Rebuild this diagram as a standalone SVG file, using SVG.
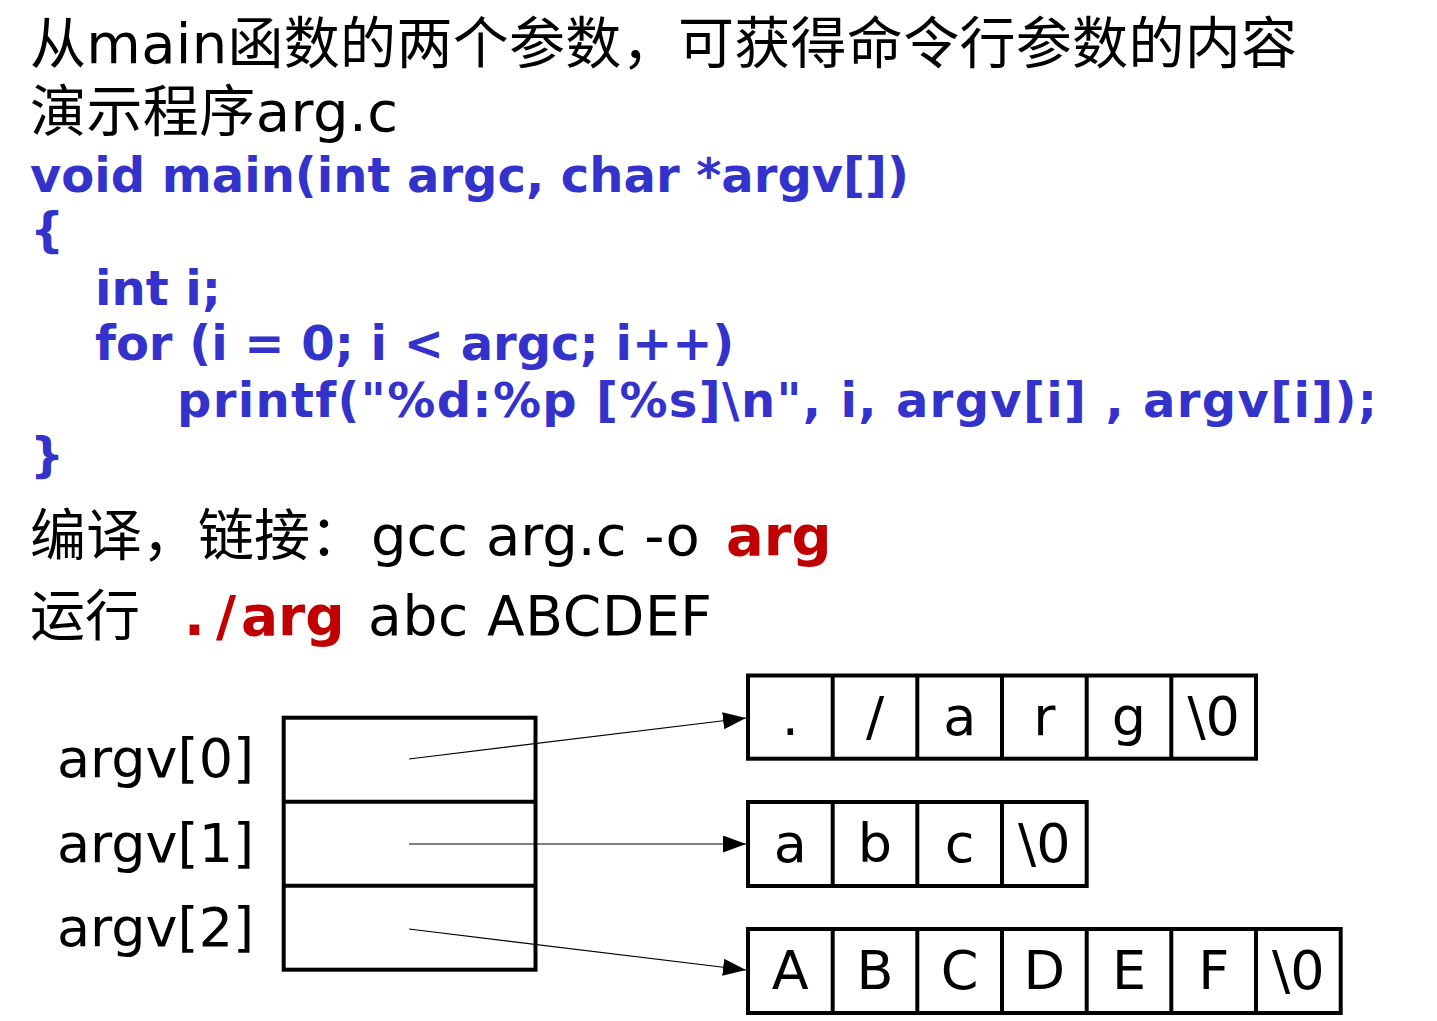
<svg xmlns="http://www.w3.org/2000/svg" width="1437" height="1021" viewBox="0 0 1437 1021">
<style>
  .t { font-family: "DejaVu Sans", "Noto Sans CJK SC", sans-serif; font-size: 54px; fill: #000; }
  .code { font-family: "DejaVu Sans", "Noto Sans CJK SC", sans-serif; font-size: 48px; font-weight: bold; fill: #3333CC; }
  .red { font-weight: bold; fill: #C00000; }
  .cell { font-family: "DejaVu Sans", sans-serif; font-size: 54px; fill: #000; text-anchor: middle; }
  .box { fill: none; stroke: #000; stroke-width: 4; }
  .conn { stroke: #000; stroke-width: 1.2; fill: none; }
</style>
<defs>
  <marker id="arrow" markerUnits="userSpaceOnUse" markerWidth="26" markerHeight="18" refX="23" refY="8.5" orient="auto">
    <path d="M0,0 L23,8.5 L0,17 z" fill="#000"/>
  </marker>
</defs>
<rect width="1437" height="1021" fill="#fff"/>

<g id="heading">
  <text class="t" x="30" y="63" style="font-size:56px" textLength="1267" lengthAdjust="spacing">从main函数的两个参数，可获得命令行参数的内容</text>
  <text class="t" x="30" y="131" style="font-size:56px" textLength="368" lengthAdjust="spacing">演示程序arg.c</text>
</g>

<g id="code">
  <text class="code" x="30" y="192">void main(int argc, char *argv[])</text>
  <text class="code" x="30" y="247">{</text>
  <text class="code" x="95" y="305">int i;</text>
  <text class="code" x="95" y="360">for (i = 0; i &lt; argc; i++)</text>
  <text class="code" x="177" y="417" textLength="1200" lengthAdjust="spacing">printf("%d:%p [%s]\n", i, argv[i] , argv[i]);</text>
  <text class="code" x="30" y="472">}</text>
</g>

<g id="commands">
  <text class="t" y="555" style="font-size:56px"><tspan x="30">编译，链接：</tspan><tspan x="371">gcc arg.c -o</tspan><tspan class="red" x="726">arg</tspan></text>
  <text class="t" y="635" style="font-size:55px"><tspan x="30">运行</tspan><tspan class="red" x="184" textLength="52" lengthAdjust="spacing">./</tspan><tspan class="red" x="241">arg</tspan><tspan x="368" textLength="344" lengthAdjust="spacing">abc ABCDEF</tspan></text>
</g>

<g id="argv-labels">
  <text class="t" x="57" y="777">argv[0]</text>
  <text class="t" x="57" y="862">argv[1]</text>
  <text class="t" x="57" y="946">argv[2]</text>
</g>

<g id="argv-array">
  <rect class="box" x="283.7" y="717.7" width="251.8" height="252"/>
  <line class="box" x1="283.7" y1="801.7" x2="535.5" y2="801.7"/>
  <line class="box" x1="283.7" y1="885.7" x2="535.5" y2="885.7"/>
</g>

<g id="str0">
  <rect class="box" x="748" y="675.5" width="508" height="83.2"/>
  <line class="box" x1="832.7" y1="675.5" x2="832.7" y2="758.7"/>
  <line class="box" x1="917.3" y1="675.5" x2="917.3" y2="758.7"/>
  <line class="box" x1="1002" y1="675.5" x2="1002" y2="758.7"/>
  <line class="box" x1="1086.7" y1="675.5" x2="1086.7" y2="758.7"/>
  <line class="box" x1="1171.3" y1="675.5" x2="1171.3" y2="758.7"/>
  <text class="cell" x="790.3" y="735">.</text>
  <text class="cell" x="875" y="735">/</text>
  <text class="cell" x="959.7" y="735">a</text>
  <text class="cell" x="1044.3" y="735">r</text>
  <text class="cell" x="1129" y="735">g</text>
  <text class="cell" x="1213.7" y="735">\0</text>
</g>

<g id="str1">
  <rect class="box" x="748" y="802" width="338.7" height="84"/>
  <line class="box" x1="832.7" y1="802" x2="832.7" y2="886"/>
  <line class="box" x1="917.3" y1="802" x2="917.3" y2="886"/>
  <line class="box" x1="1002" y1="802" x2="1002" y2="886"/>
  <text class="cell" x="790.3" y="862">a</text>
  <text class="cell" x="875" y="862">b</text>
  <text class="cell" x="959.7" y="862">c</text>
  <text class="cell" x="1044.3" y="862">\0</text>
</g>

<g id="str2">
  <rect class="box" x="748" y="929" width="592.7" height="84"/>
  <line class="box" x1="832.7" y1="929" x2="832.7" y2="1013"/>
  <line class="box" x1="917.3" y1="929" x2="917.3" y2="1013"/>
  <line class="box" x1="1002" y1="929" x2="1002" y2="1013"/>
  <line class="box" x1="1086.7" y1="929" x2="1086.7" y2="1013"/>
  <line class="box" x1="1171.3" y1="929" x2="1171.3" y2="1013"/>
  <line class="box" x1="1256" y1="929" x2="1256" y2="1013"/>
  <text class="cell" x="790.3" y="989">A</text>
  <text class="cell" x="875" y="989">B</text>
  <text class="cell" x="959.7" y="989">C</text>
  <text class="cell" x="1044.3" y="989">D</text>
  <text class="cell" x="1129" y="989">E</text>
  <text class="cell" x="1213.7" y="989">F</text>
  <text class="cell" x="1298.3" y="989">\0</text>
</g>

<g id="connectors">
  <line class="conn" x1="409" y1="759" x2="746" y2="718" marker-end="url(#arrow)"/>
  <line class="conn" x1="409" y1="844" x2="746" y2="844" marker-end="url(#arrow)"/>
  <line class="conn" x1="409" y1="929" x2="746" y2="970" marker-end="url(#arrow)"/>
</g>
</svg>
